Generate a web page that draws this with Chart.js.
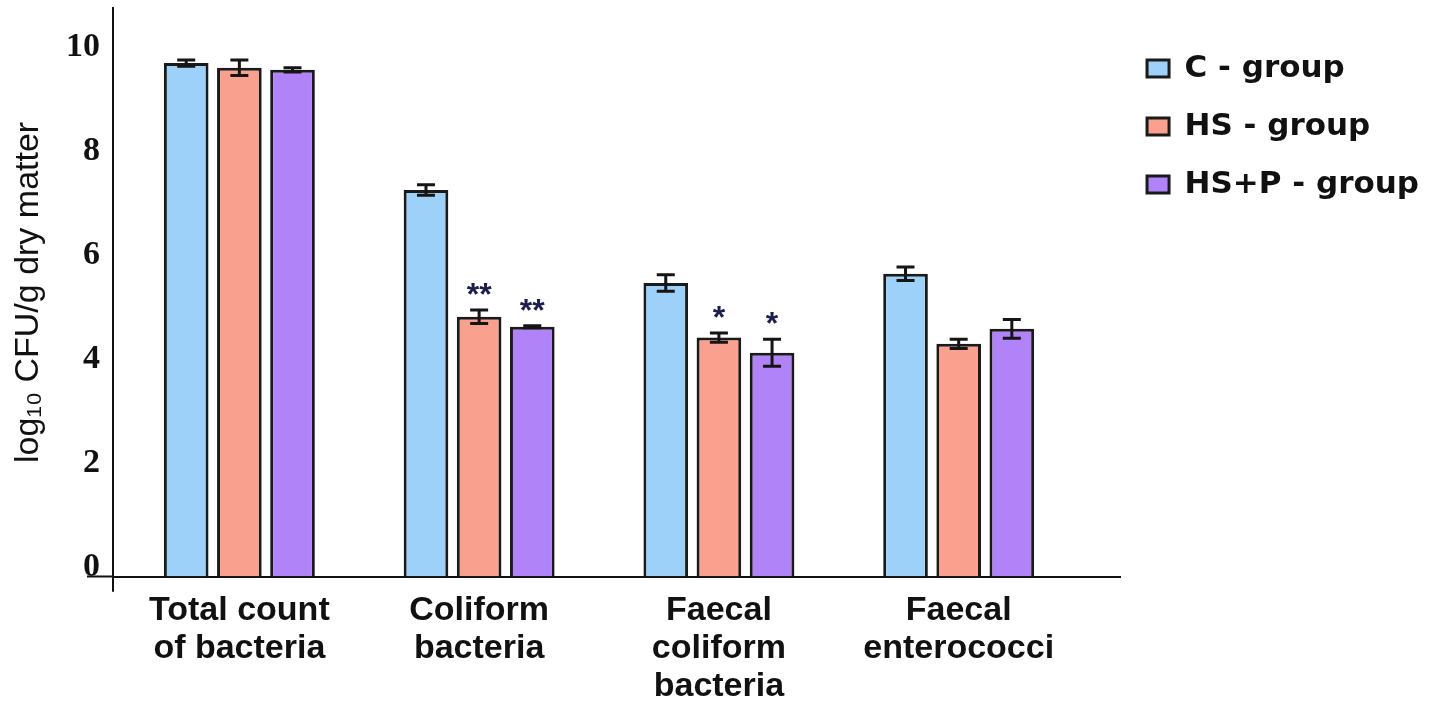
<!DOCTYPE html>
<html>
<head>
<meta charset="utf-8">
<script src="https://cdn.jsdelivr.net/npm/chart.js@4.4.1/dist/chart.umd.min.js"></script>
<style>
body { margin: 0; background: #fff; }
#caja { width: 1429px; height: 706px; }
</style>
</head>
<body>
<div id="caja"><canvas id="grafica"></canvas></div>
<script>
var categorias = [["Total count", "of bacteria"], ["Coliform", "bacteria"], ["Faecal", "coliform", "bacteria"], ["Faecal", "enterococci"]];
var grupos = ["C - group", "HS - group", "HS+P - group"];
var valoresC = [9.88, 7.44, 5.65, 5.83];
var valoresHS = [9.79, 5.00, 4.60, 4.48];
var valoresHSP = [9.75, 4.81, 4.31, 4.77];
var errorC = [0.06, 0.10, 0.16, 0.13];
var errorHS = [0.15, 0.13, 0.09, 0.09];
var errorHSP = [0.04, 0.02, 0.26, 0.18];
var marcasC = ["", "", "", ""];
var marcasHS = ["", "**", "*", ""];
var marcasHSP = ["", "**", "*", ""];
var ticksY = [0, 2, 4, 6, 8, 10];

function puntos(valores) {
    return valores.map((v, i) => ({ x: i, y: v }));
}

// barras de error, asteriscos y el trozo del eje y bajo el eje x
var barrasError = {
    id: 'barrasError',
    afterDatasetsDraw(chart) {
        var c = chart.ctx;
        var ejeY = chart.scales.y;
        var area = chart.chartArea;
        c.save();
        c.strokeStyle = '#111';
        c.lineWidth = 2;
        c.beginPath();
        c.moveTo(area.left, area.bottom);
        c.lineTo(area.left, area.bottom + 15);
        c.stroke();
        c.restore();
        chart.data.datasets.forEach((ds, d) => {
            chart.getDatasetMeta(d).data.forEach((barra, i) => {
                var v = ds.data[i].y, e = ds.errores[i];
                var arriba = ejeY.getPixelForValue(v + e);
                var abajo = ejeY.getPixelForValue(v - e);
                c.save();
                c.strokeStyle = '#151515';
                c.lineWidth = 3;
                c.beginPath();
                c.moveTo(barra.x, arriba); c.lineTo(barra.x, abajo);
                c.moveTo(barra.x - 9, arriba); c.lineTo(barra.x + 9, arriba);
                c.moveTo(barra.x - 9, abajo); c.lineTo(barra.x + 9, abajo);
                c.stroke();
                if (ds.marcas[i]) {
                    c.fillStyle = '#1c1f4a';
                    c.font = 'bold 32px "Liberation Sans"';
                    c.textAlign = 'center';
                    c.textBaseline = 'alphabetic';
                    c.fillText(ds.marcas[i], barra.x, arriba - 5);
                }
                c.restore();
            });
        });
    }
};

var ctx = document.getElementById("grafica").getContext("2d");
var grafica = new Chart(ctx, {
    type: 'bar',
    data: {
        datasets: [{
            label: grupos[0],
            data: puntos(valoresC),
            errores: errorC,
            marcas: marcasC,
            backgroundColor: '#9dd1f9'
        }, {
            label: grupos[1],
            data: puntos(valoresHS),
            errores: errorHS,
            marcas: marcasHS,
            backgroundColor: '#f9a08e'
        }, {
            label: grupos[2],
            data: puntos(valoresHSP),
            errores: errorHSP,
            marcas: marcasHSP,
            backgroundColor: '#b083f8'
        }]
    },
    options: {
        responsive: true,
        maintainAspectRatio: false,
        animation: false,
        layout: { padding: { top: 8, right: 0, bottom: 0, left: 0 } },
        datasets: {
            bar: { categoryPercentage: 0.665, barPercentage: 0.84, borderWidth: 3, borderColor: '#1a1a1a' }
        },
        scales: {
            x: {
                type: 'linear',
                bounds: 'data',
                offset: false,
                min: -0.527,
                max: 3.673,
                afterBuildTicks: (eje) => {
                    eje.ticks = categorias.map((c, i) => ({ value: i }));
                },
                grid: {
                    offset: false,
                    drawOnChartArea: false,
                    tickLength: 15,
                    tickColor: 'rgba(0,0,0,0)'
                },
                border: { display: true, color: '#111', width: 2 },
                ticks: {
                    maxRotation: 0,
                    autoSkip: false,
                    padding: 0,
                    color: '#111',
                    font: { family: 'Liberation Sans', size: 34, weight: 'bold', lineHeight: 1.12 },
                    callback: (v) => categorias[v]
                }
            },
            y: {
                min: 0,
                max: 10.94,
                afterBuildTicks: (eje) => {
                    eje.ticks = ticksY.map((v) => ({ value: v }));
                },
                afterFit: (eje) => { eje.width = 113; },
                grid: {
                    drawOnChartArea: false,
                    tickLength: 26,
                    tickWidth: 2,
                    tickColor: (c) => (c.tick && c.tick.value === 0) ? '#111' : 'rgba(0,0,0,0)'
                },
                border: { display: true, color: '#111', width: 2 },
                ticks: {
                    padding: -13,
                    color: '#111',
                    font: { family: 'Liberation Serif', size: 34, weight: 'bold', lineHeight: 0.59 },
                    callback: (v) => [String(v), '']
                },
                title: {
                    display: true,
                    text: 'log₁₀ CFU/g dry matter',
                    color: '#111',
                    font: { family: 'Liberation Sans', size: 34 },
                    padding: { top: 8, bottom: 0 }
                }
            }
        },
        plugins: {
            legend: {
                position: 'right',
                align: 'start',
                maxWidth: 309,
                title: { display: true, text: '', padding: { top: 0, bottom: 6 }, font: { size: 10 } },
                labels: {
                    boxWidth: 22,
                    boxHeight: 17,
                    padding: 27,
                    color: '#111',
                    font: { family: 'DejaVu Sans', size: 31, weight: 'bold' }
                }
            },
            tooltip: { enabled: false }
        }
    },
    plugins: [barrasError]
});
</script>
</body>
</html>
